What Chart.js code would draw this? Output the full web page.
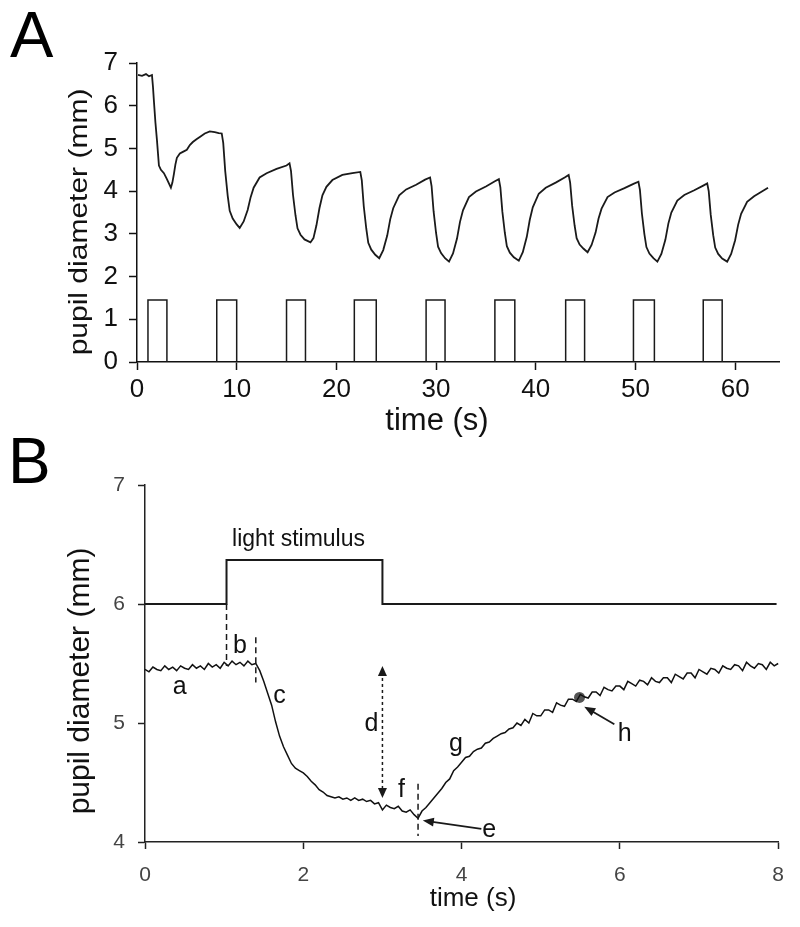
<!DOCTYPE html>
<html><head><meta charset="utf-8">
<script src="https://cdn.jsdelivr.net/npm/chart.js@4.4.0/dist/chart.umd.min.js"></script>
<style>
html,body{margin:0;padding:0;background:#fff;}
#wrap{position:relative;width:800px;height:927px;background:#fff;}
canvas{position:absolute;left:0;}
#cA{top:0;width:800px;height:450px;}
#cB{top:430px;width:800px;height:497px;}
</style></head><body>
<div id="wrap"><canvas id="cA" width="800" height="450"></canvas><canvas id="cB" width="800" height="497"></canvas></div>
<script>
// ---------------- Panel A data ----------------
const traceA_time = [
 0.1,0.5,0.9,1.2,1.5,1.6,1.7,1.85,2.0,2.2,2.4,2.7,3.0,3.2,3.4,3.55,3.7,3.85,4.0,4.3,4.6,5.0,5.3,5.6,6.0,6.3,6.8,7.3,7.8,8.2,
 8.5,8.65,8.85,9.1,9.3,9.6,10.0,10.3,10.7,11.1,11.4,11.7,12.3,13.0,14.0,15.0,15.3,
 15.45,15.65,15.9,16.1,16.4,16.8,17.4,17.7,18.0,18.3,18.6,19.0,19.6,20.6,21.6,22.4,
 22.55,22.75,23.0,23.2,23.5,23.9,24.3,24.7,25.1,25.4,25.7,26.3,27.0,28.0,28.9,29.4,
 29.55,29.75,30.0,30.2,30.5,30.9,31.3,31.7,32.1,32.4,32.7,33.3,34.0,35.0,35.9,36.3,
 36.45,36.65,36.9,37.1,37.4,37.8,38.3,38.7,39.1,39.4,39.7,40.3,41.0,42.0,42.9,43.3,
 43.45,43.65,43.9,44.1,44.4,44.8,45.2,45.6,46.0,46.3,46.6,47.2,47.9,48.9,49.8,50.3,
 50.45,50.65,50.9,51.1,51.4,51.8,52.2,52.6,53.0,53.3,53.6,54.2,54.9,55.9,56.8,57.2,
 57.35,57.55,57.8,58.0,58.3,58.7,59.2,59.6,60.0,60.3,60.6,61.2,61.9,62.6,63.3
];
const traceA_diameter = [
 6.72,6.70,6.74,6.69,6.72,6.45,6.10,5.60,5.20,4.60,4.50,4.42,4.28,4.18,4.08,4.20,4.40,4.62,4.78,4.88,4.92,4.97,5.08,5.15,5.22,5.27,5.35,5.40,5.38,5.36,
 5.35,5.13,4.47,3.89,3.54,3.36,3.22,3.14,3.29,3.56,3.86,4.08,4.32,4.42,4.52,4.60,4.65,
 4.47,3.91,3.43,3.13,2.98,2.87,2.80,2.90,3.20,3.60,3.90,4.10,4.26,4.38,4.42,4.45,
 4.25,3.64,3.12,2.79,2.63,2.51,2.43,2.62,2.96,3.34,3.60,3.90,4.04,4.15,4.27,4.32,
 4.12,3.53,3.02,2.70,2.55,2.43,2.35,2.54,2.89,3.28,3.55,3.86,3.99,4.11,4.23,4.28,
 4.09,3.52,3.02,2.71,2.56,2.45,2.37,2.57,2.93,3.33,3.62,3.94,4.08,4.20,4.32,4.38,
 4.20,3.66,3.19,2.90,2.75,2.65,2.57,2.74,3.03,3.36,3.59,3.86,3.97,4.07,4.17,4.22,
 4.03,3.47,2.99,2.69,2.54,2.43,2.35,2.53,2.86,3.24,3.50,3.78,3.91,4.02,4.13,4.18,
 4.00,3.45,2.97,2.68,2.53,2.42,2.35,2.53,2.85,3.21,3.47,3.75,3.88,3.98,4.08
];
const stimA_onset  = [1.1, 8.0, 15.0, 21.8, 29.0, 35.9, 43.0, 49.8, 56.8];
const stimA_offset = [3.0, 10.0, 16.9, 24.0, 30.9, 37.9, 44.9, 51.9, 58.7];
const stimA_level  = 1.45;
const ticksA_x = [0,10,20,30,40,50,60];
const ticksA_y = [0,1,2,3,4,5,6,7];

// ---------------- Panel B data ----------------
const traceB_time = [
 0.00,0.05,0.10,0.15,0.20,0.25,0.30,0.35,0.40,0.45,0.50,0.55,0.60,0.65,0.70,0.75,0.80,0.85,0.90,0.95,
 1.00,1.05,1.10,1.15,1.20,1.25,1.30,1.35,1.40,1.45,1.50,1.55,1.60,1.65,1.70,1.75,1.80,1.85,1.90,1.95,
 2.00,2.05,2.10,2.15,2.20,2.25,2.30,2.35,2.40,2.45,2.50,2.55,2.60,2.65,2.70,2.75,2.80,2.85,2.90,2.95,
 3.00,3.05,3.10,3.15,3.20,3.25,3.30,3.35,3.40,3.45,3.50,3.55,3.60,3.65,3.70,3.75,3.80,3.85,3.90,3.95,
 4.00,4.05,4.10,4.15,4.20,4.25,4.30,4.35,4.40,4.45,4.50,4.55,4.60,4.65,
 4.70,4.75,4.80,4.85,4.90,4.95,5.00,5.05,5.10,5.15,5.20,5.25,5.30,5.35,5.40,5.45,5.50,5.55,5.60,5.65,
 5.70,5.75,5.80,5.85,5.90,5.95,6.00,6.05,6.10,6.15,6.20,6.25,6.30,6.35,6.40,6.45,6.50,6.55,6.60,6.65,
 6.70,6.75,6.80,6.85,6.90,6.95,7.00,7.05,7.10,7.15,7.20,7.25,7.30,7.35,7.40,7.45,7.50,7.55,7.60,7.65,
 7.70,7.75,7.80,7.85,7.90,7.95,8.00,8.05
];
const traceB_diameter = [
 5.45,5.43,5.47,5.45,5.44,5.48,5.45,5.47,5.44,5.48,5.46,5.45,5.49,5.46,5.48,5.45,5.50,5.47,5.49,5.46,
 5.51,5.48,5.52,5.49,5.51,5.48,5.52,5.49,5.50,5.44,5.35,5.25,5.15,5.01,4.89,4.80,4.73,4.66,4.62,4.60,
 4.58,4.55,4.51,4.48,4.44,4.42,4.39,4.38,4.37,4.38,4.36,4.37,4.35,4.37,4.35,4.36,4.34,4.35,4.32,4.33,
 4.27,4.31,4.29,4.28,4.30,4.26,4.25,4.27,4.23,4.20,4.26,4.29,4.33,4.37,4.41,4.45,4.50,4.53,4.60,4.63,
 4.67,4.71,4.72,4.76,4.78,4.79,4.83,4.84,4.87,4.89,4.91,4.92,4.95,4.96,
 5.00,4.98,5.03,5.00,5.08,5.06,5.06,5.11,5.11,5.09,5.17,5.15,5.14,5.20,5.20,5.18,5.24,5.22,5.21,5.26,
 5.26,5.23,5.30,5.28,5.27,5.31,5.31,5.28,5.35,5.33,5.31,5.36,5.35,5.32,5.38,5.35,5.34,5.38,5.38,5.34,
 5.41,5.39,5.37,5.42,5.42,5.38,5.45,5.43,5.41,5.46,5.45,5.42,5.48,5.46,5.45,5.49,5.48,5.44,5.51,5.48,
 5.46,5.50,5.49,5.45,5.51,5.48,5.50,5.44
];
const stimB_time  = [0, 1.03, 1.03, 3.0, 3.0, 7.98];
const stimB_level = [6, 6, 6.37, 6.37, 6, 6];
const markerB_time = [5.49];
const markerB_diameter = [5.215];
const ticksB_x = [0,2,4,6,8];
const ticksB_y = [4,5,6,7];

// ---------------- annotation settings (data coordinates) ----------------
const dashedMarksB = [
  {t:1.03, v0:6.0,  v1:5.48},
  {t:1.40, v0:5.72, v1:5.34},
  {t:3.45, v0:4.49, v1:4.05}
];
const amplitudeArrowB = {t:3.0, v0:4.37, v1:5.48};
const pointerArrowsB = [
  {t0:4.25, v0:4.11, t1:3.51, v1:4.18},
  {t0:5.93, v0:4.99, t1:5.55, v1:5.137}
];
const phaseLabelsB = [
  {text:'a', t:0.44, v:5.246},
  {text:'b', t:1.20, v:5.585},
  {text:'c', t:1.70, v:5.17},
  {text:'d', t:2.86, v:4.935},
  {text:'e', t:4.35, v:4.04},
  {text:'f', t:3.24, v:4.374},
  {text:'g', t:3.93, v:4.768},
  {text:'h', t:6.06, v:4.85}
];
const stimLabelB = {text:'light stimulus', t:1.94, v:6.49};

// ---------------- helpers ----------------
const SANS = "'Liberation Sans', Arial, Helvetica, sans-serif";

function drawText(ctx, text, x, y, o) {
  ctx.save();
  ctx.translate(x, y);
  if (o.rotate) ctx.rotate(o.rotate);
  ctx.scale(o.sx || 1, o.sy || 1);
  ctx.font = o.size + 'px ' + (o.family || SANS);
  ctx.fillStyle = o.color || '#111';
  ctx.textAlign = o.align || 'center';
  ctx.textBaseline = o.baseline || 'alphabetic';
  ctx.fillText(text, 0, 0);
  ctx.restore();
}
function headAt(ctx, x0, y0, x1, y1, len, w) {
  const a = Math.atan2(y1 - y0, x1 - x0);
  const bx = x1 - len * Math.cos(a), by = y1 - len * Math.sin(a);
  ctx.beginPath();
  ctx.moveTo(x1, y1);
  ctx.lineTo(bx + (w / 2) * Math.sin(a), by - (w / 2) * Math.cos(a));
  ctx.lineTo(bx - (w / 2) * Math.sin(a), by + (w / 2) * Math.cos(a));
  ctx.closePath();
  ctx.fill();
}

// build point lists
const traceA = traceA_time.map((t, i) => ({x: t, y: traceA_diameter[i]}));
const stimA = [];
stimA_onset.forEach((on, i) => {
  const off = stimA_offset[i];
  stimA.push({x: on, y: 0}, {x: on, y: stimA_level}, {x: off, y: stimA_level}, {x: off, y: 0}, {x: off, y: null});
});
const traceB = traceB_time.map((t, i) => ({x: t, y: traceB_diameter[i]}));
const stimB = stimB_time.map((t, i) => ({x: t, y: stimB_level[i]}));
const markerB = markerB_time.map((t, i) => ({x: t, y: markerB_diameter[i]}));

function axisStyle(o) {
  return {
    grid: {drawOnChartArea: false, drawTicks: true, tickLength: o.tl, tickWidth: 1.5, tickColor: o.col},
    border: {display: true, color: o.col, width: 1.5}
  };
}

// ---------------- Panel A ----------------
const plugA = {
  id: 'plugA',
  afterDraw(chart) {
    const ctx = chart.ctx;
    drawText(ctx, 'A', 10, 57, {size: 65, color: '#000', align: 'left'});
    drawText(ctx, 'time (s)', 437, 430, {size: 31, color: '#111'});
    drawText(ctx, 'pupil diameter (mm)', 80, 222, {size: 30, rotate: -Math.PI / 2, sy: 0.88, baseline: 'middle', color: '#111'});
  }
};
new Chart(document.getElementById('cA'), {
  type: 'line',
  data: {datasets: [
    {data: traceA, borderColor: '#1a1a1a', borderWidth: 1.8, pointRadius: 0, tension: 0, fill: false},
    {data: stimA, borderColor: '#1a1a1a', borderWidth: 1.5, pointRadius: 0, tension: 0, fill: false, spanGaps: false}
  ]},
  options: {
    responsive: false, animation: false, events: [],
    layout: {padding: {left: 0, right: 21, top: 63, bottom: 0}},
    plugins: {legend: {display: false}, tooltip: {enabled: false}},
    scales: {
      x: Object.assign({type: 'linear', min: 0, max: 64.4,
        afterFit(s) { s.height = 88; },
        afterBuildTicks(s) { s.ticks = ticksA_x.map(v => ({value: v})); },
        ticks: {font: {family: SANS, size: 26, lineHeight: 1}, color: '#111', padding: 7, autoSkip: false, maxRotation: 0, includeBounds: false}
      }, axisStyle({tl: 8, col: '#111'})),
      y: Object.assign({type: 'linear', min: 0, max: 7,
        afterFit(s) { s.width = 137; },
        afterBuildTicks(s) { s.ticks = ticksA_y.map(v => ({value: v})); },
        ticks: {font: {family: SANS, size: 26, lineHeight: 1}, color: '#111', padding: 11, autoSkip: false}
      }, axisStyle({tl: 8, col: '#111'}))
    }
  },
  plugins: [plugA]
});

// ---------------- Panel B ----------------
const plugB = {
  id: 'plugB',
  afterDatasetsDraw(chart) {
    const ctx = chart.ctx, X = chart.scales.x, Y = chart.scales.y;
    ctx.save();
    ctx.strokeStyle = '#1a1a1a'; ctx.fillStyle = '#1a1a1a';
    ctx.lineWidth = 1.5; ctx.setLineDash([6, 4]);
    dashedMarksB.forEach(m => {
      const x = X.getPixelForValue(m.t);
      ctx.beginPath(); ctx.moveTo(x, Y.getPixelForValue(m.v0)); ctx.lineTo(x, Y.getPixelForValue(m.v1)); ctx.stroke();
    });
    const ax = X.getPixelForValue(amplitudeArrowB.t);
    const ay0 = Y.getPixelForValue(amplitudeArrowB.v0), ay1 = Y.getPixelForValue(amplitudeArrowB.v1);
    ctx.setLineDash([3, 3]);
    ctx.beginPath(); ctx.moveTo(ax, ay0 - 9); ctx.lineTo(ax, ay1 + 9); ctx.stroke();
    ctx.setLineDash([]);
    headAt(ctx, ax, ay0 - 20, ax, ay0, 10, 9);
    headAt(ctx, ax, ay1 + 20, ax, ay1, 10, 9);
    ctx.lineWidth = 1.8;
    pointerArrowsB.forEach(a => {
      const x0 = X.getPixelForValue(a.t0), y0 = Y.getPixelForValue(a.v0);
      const x1 = X.getPixelForValue(a.t1), y1 = Y.getPixelForValue(a.v1);
      const ang = Math.atan2(y1 - y0, x1 - x0);
      ctx.beginPath(); ctx.moveTo(x0, y0); ctx.lineTo(x1 - 8 * Math.cos(ang), y1 - 8 * Math.sin(ang)); ctx.stroke();
      headAt(ctx, x0, y0, x1, y1, 11, 9);
    });
    phaseLabelsB.forEach(l => {
      drawText(ctx, l.text, X.getPixelForValue(l.t), Y.getPixelForValue(l.v), {size: 25, color: '#111'});
    });
    drawText(ctx, stimLabelB.text, X.getPixelForValue(stimLabelB.t), Y.getPixelForValue(stimLabelB.v), {size: 23, color: '#111'});
    ctx.restore();
  },
  afterDraw(chart) {
    const ctx = chart.ctx;
    drawText(ctx, 'B', 8, 53, {size: 64, color: '#000', align: 'left'});
    drawText(ctx, 'time (s)', 473, 476, {size: 26, color: '#111'});
    drawText(ctx, 'pupil diameter (mm)', 81, 251, {size: 30, rotate: -Math.PI / 2, baseline: 'middle', color: '#111'});
  }
};
new Chart(document.getElementById('cB'), {
  type: 'line',
  data: {datasets: [
    {data: stimB, borderColor: '#1a1a1a', borderWidth: 2, pointRadius: 0, tension: 0, fill: false, clip: false},
    {data: traceB, borderColor: '#111', borderWidth: 1.5, pointRadius: 0, tension: 0, fill: false, clip: false},
    {data: markerB, showLine: false, pointRadius: 5.5, pointBackgroundColor: '#555', pointBorderColor: '#555', borderWidth: 0}
  ]},
  options: {
    responsive: false, animation: false, events: [],
    layout: {padding: {left: 0, right: 21, top: 55, bottom: 0}},
    plugins: {legend: {display: false}, tooltip: {enabled: false}},
    scales: {
      x: Object.assign({type: 'linear', min: 0, max: 8,
        afterFit(s) { s.height = 85; },
        afterBuildTicks(s) { s.ticks = ticksB_x.map(v => ({value: v})); },
        ticks: {font: {family: SANS, size: 21, lineHeight: 1}, color: '#444', padding: 16, autoSkip: false, maxRotation: 0}
      }, axisStyle({tl: 7, col: '#222'})),
      y: Object.assign({type: 'linear', min: 4, max: 7,
        afterFit(s) { s.width = 145; },
        afterBuildTicks(s) { s.ticks = ticksB_y.map(v => ({value: v})); },
        ticks: {font: {family: SANS, size: 21, lineHeight: 1}, color: '#444', padding: 13, autoSkip: false}
      }, axisStyle({tl: 7, col: '#222'}))
    }
  },
  plugins: [plugB]
});
</script>
</body></html>
